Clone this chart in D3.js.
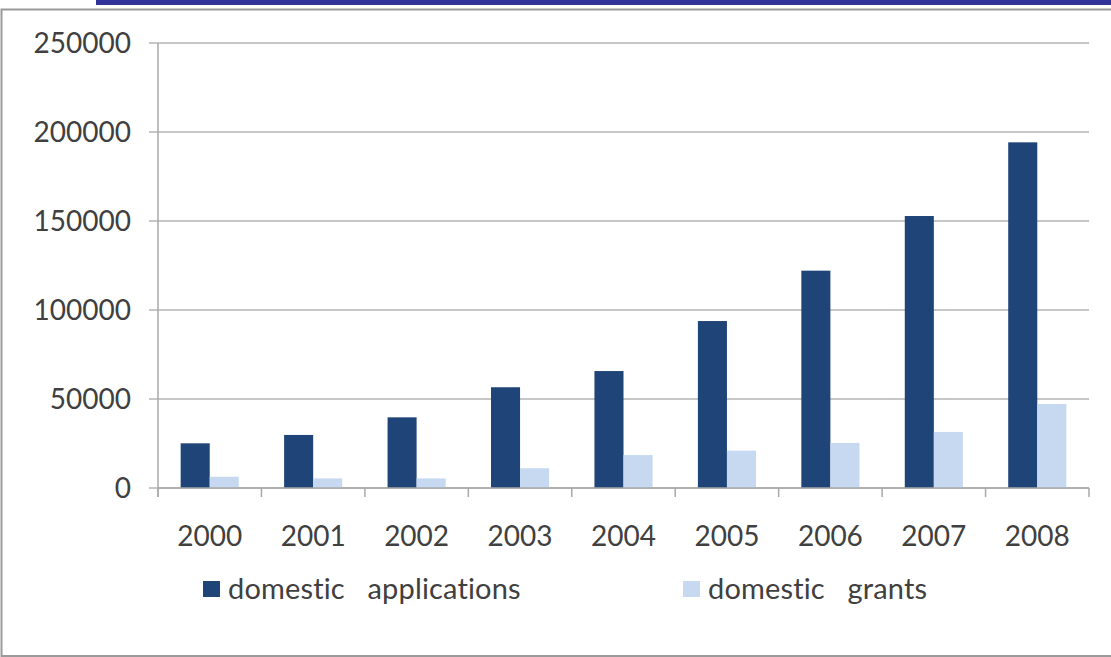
<!DOCTYPE html>
<html>
<head>
<meta charset="utf-8">
<script src="https://cdn.jsdelivr.net/npm/d3@7"></script>
<style>
  body { margin: 0; background: #fff; }
  text { font-family: Lato, "Open Sans", sans-serif; fill: #404040; }
</style>
</head>
<body>
<svg id="chart" width="1111" height="657"></svg>
<script>
var years = ['2000', '2001', '2002', '2003', '2004', '2005', '2006', '2007', '2008'];
var applications = [25100, 29800, 39700, 56600, 65700, 93800, 122100, 152800, 194200];
var grants = [6300, 5400, 5400, 11100, 18500, 21000, 25300, 31500, 47200];
var seriesNames = ['domestic   applications', 'domestic   grants'];
var yTicks = [0, 50000, 100000, 150000, 200000, 250000];
var colors = ['#1f4478', '#c6d9f1'];

var svg = d3.select('#chart');

// frame + blue strip on top
svg.append('rect')
    .attr('x', 96).attr('y', 0).attr('width', 1015).attr('height', 5)
    .attr('fill', '#343399');
svg.append('rect')
    .attr('x', 1.5).attr('y', 9.5).attr('width', 1120).attr('height', 646.5)
    .attr('fill', 'none').attr('stroke', '#9a9a9a').attr('stroke-width', 2);

var margin = {left: 158, right: 1089, top: 43, bottom: 488};

var y = d3.scaleLinear()
    .domain([0, 250000])
    .range([margin.bottom, margin.top]);

var x = d3.scaleBand()
    .domain(years)
    .range([margin.left, margin.right])
    .padding(0);

var xSub = d3.scaleBand()
    .domain([0, 1])
    .range([0, x.bandwidth()])
    .paddingInner(0)
    .paddingOuter(0.78);

// gridlines
svg.append('g')
    .selectAll('line')
    .data(yTicks)
    .enter()
    .append('line')
        .attr('x1', margin.left - 9)
        .attr('x2', margin.right)
        .attr('y1', function(d) { return y(d); })
        .attr('y2', function(d) { return y(d); })
        .attr('stroke', '#b4b4b4')
        .attr('stroke-width', 1.5);

// y labels
svg.append('g')
    .selectAll('text')
    .data(yTicks)
    .enter()
    .append('text')
        .text(function(d) { return d; })
        .attr('x', 131)
        .attr('y', function(d) { return y(d); })
        .attr('dy', '0.36em')
        .attr('text-anchor', 'end')
        .style('font-size', '28px');

// y axis line
svg.append('line')
    .attr('x1', margin.left).attr('x2', margin.left)
    .attr('y1', margin.top).attr('y2', margin.bottom + 9)
    .attr('stroke', '#a8a8a8').attr('stroke-width', 1.5);

// bars
var data = [applications, grants];
data.forEach(function(series, s) {
    svg.append('g')
        .selectAll('rect')
        .data(series)
        .enter()
        .append('rect')
            .attr('x', function(d, i) { return x(years[i]) + xSub(s); })
            .attr('y', function(d) { return y(d); })
            .attr('width', xSub.bandwidth())
            .attr('height', function(d) { return y(0) - y(d); })
            .attr('fill', colors[s]);
});

// x axis
var xAxis = svg.append('g')
    .attr('transform', 'translate(0,' + margin.bottom + ')')
    .call(d3.axisBottom(x).tickSize(0).tickPadding(38));
xAxis.select('.domain').remove();
xAxis.selectAll('text')
    .style('font-size', '28px')
    .attr('fill', '#404040')
    .style('font-family', 'Lato, "Open Sans", sans-serif');

svg.append('line')
    .attr('x1', margin.left).attr('x2', margin.right)
    .attr('y1', margin.bottom).attr('y2', margin.bottom)
    .attr('stroke', '#a8a8a8').attr('stroke-width', 1.5);

var bounds = years.map(function(d) { return x(d); }).concat([margin.right]);
svg.append('g')
    .selectAll('line')
    .data(bounds)
    .enter()
    .append('line')
        .attr('x1', function(d) { return d; })
        .attr('x2', function(d) { return d; })
        .attr('y1', margin.bottom)
        .attr('y2', margin.bottom + 9)
        .attr('stroke', '#a8a8a8')
        .attr('stroke-width', 1.5);

// legend
var legendX = [203, 683];
var legend = svg.append('g')
    .selectAll('g')
    .data(seriesNames)
    .enter()
    .append('g')
        .attr('transform', function(d, i) { return 'translate(' + legendX[i] + ',581)'; });
legend.append('rect')
    .attr('width', 17).attr('height', 16)
    .attr('fill', function(d, i) { return colors[i]; });
legend.append('text')
    .text(function(d) { return d; })
    .attr('x', 25)
    .attr('y', 8)
    .attr('dy', '0.36em')
    .style('white-space', 'pre')
    .attr('xml:space', 'preserve')
    .style('font-size', '29px')
    .style('letter-spacing', '0.15px');
</script>
</body>
</html>
